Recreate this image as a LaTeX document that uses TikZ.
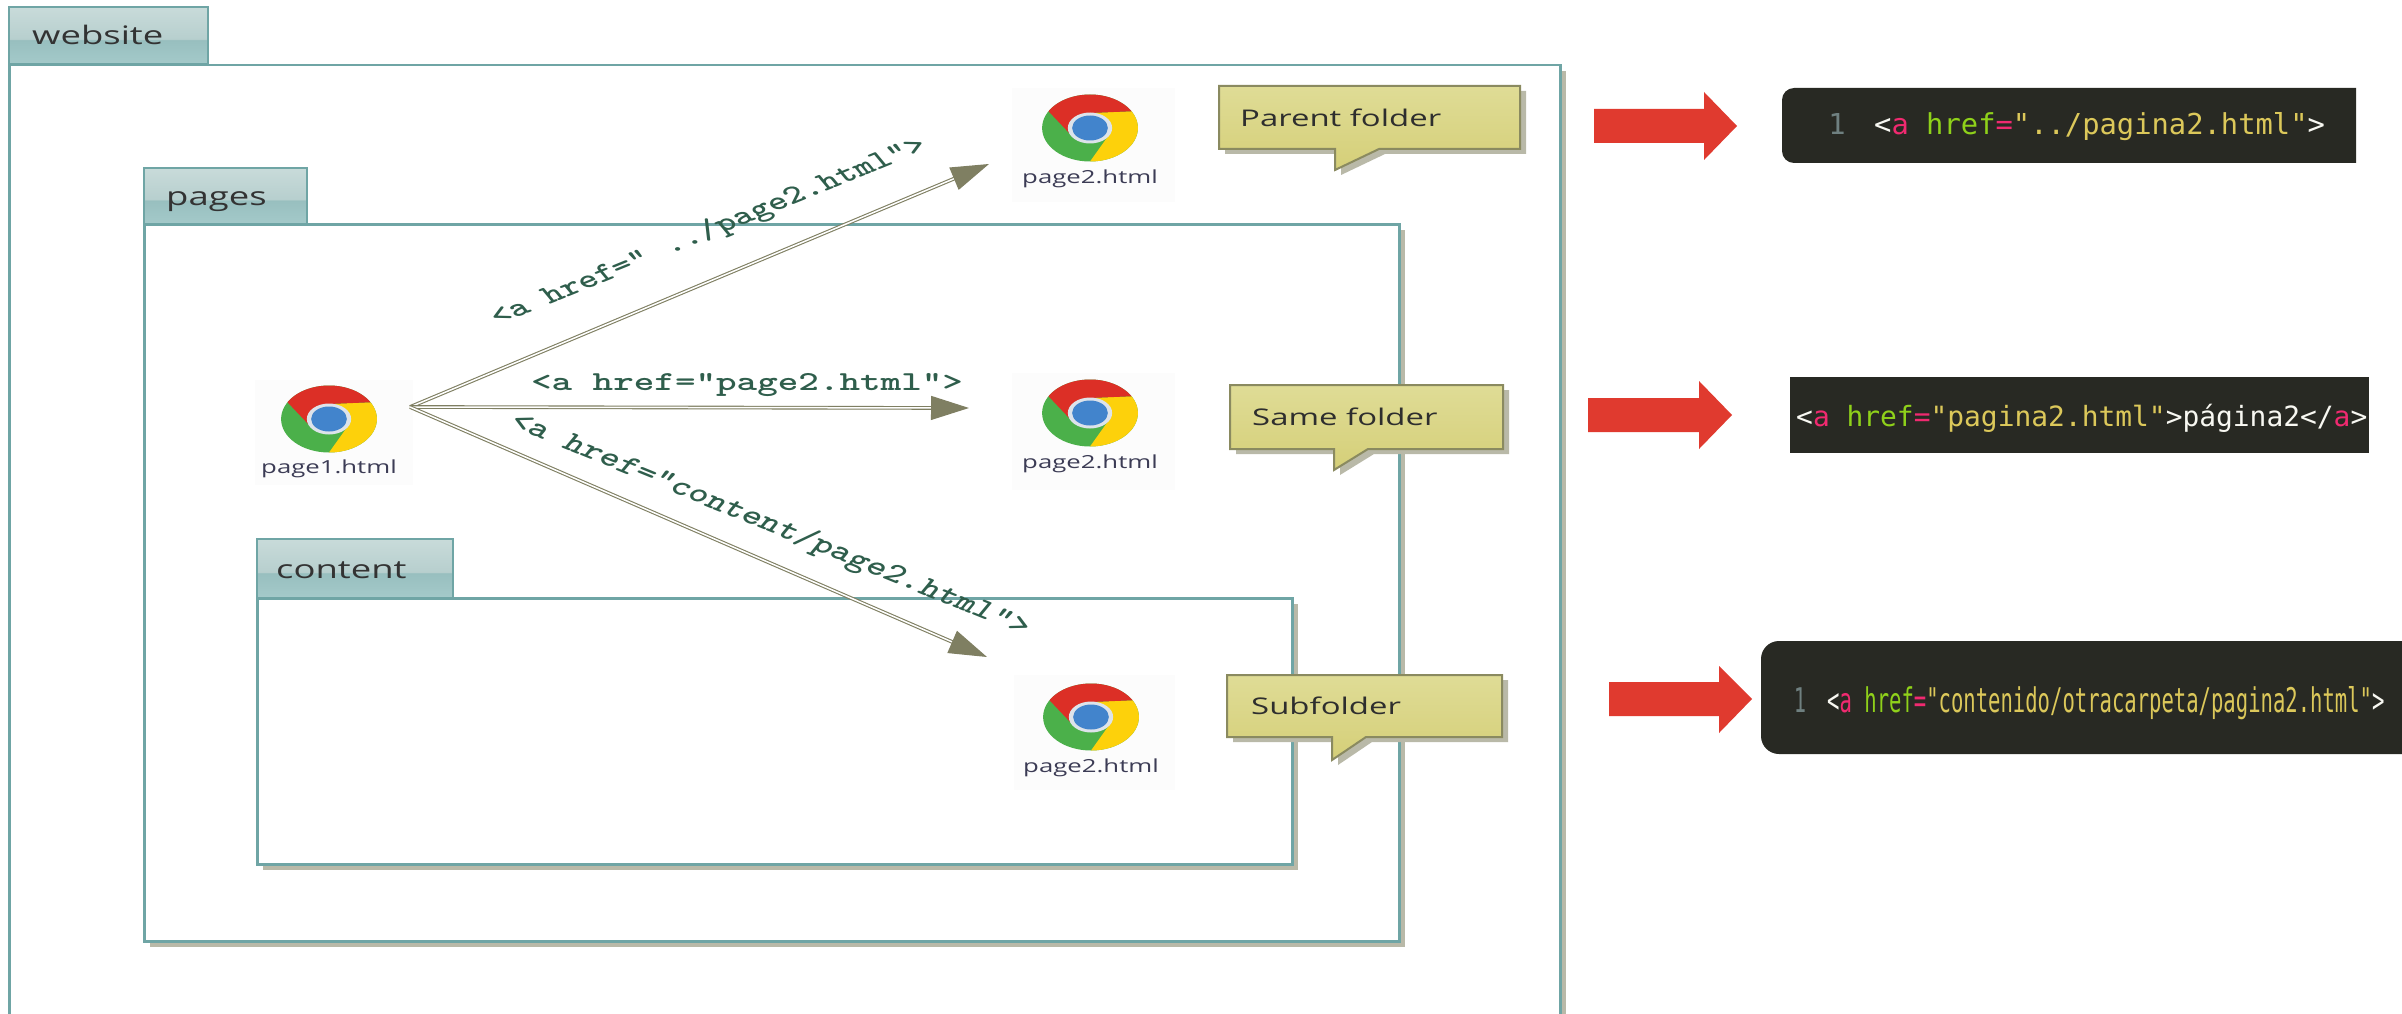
\documentclass[tikz,border=0pt]{standalone}
\usepackage{fontspec}
\usepackage{xcolor}
\usetikzlibrary{arrows.meta}
\usetikzlibrary{shadows}
\setmainfont{Open Sans}
\newfontfamily\monofam{DejaVu Sans Mono}

\definecolor{foldline}{HTML}{6FA5A5}
\definecolor{shadowc}{HTML}{B9B9A8}
\definecolor{tabtop}{HTML}{D8E6E4}
\definecolor{tabmid}{HTML}{B7CFCE}
\definecolor{tabbrk}{HTML}{98BFBF}
\definecolor{tabbot}{HTML}{B2D6D6}
\definecolor{linkc}{HTML}{7F7F62}
\definecolor{hrefc}{HTML}{2F5E4C}
\definecolor{notetop}{HTML}{DFDC96}
\definecolor{notebot}{HTML}{D5CF78}
\definecolor{noteline}{HTML}{8A8A60}
\definecolor{redc}{HTML}{E03A2F}
\definecolor{codebg}{HTML}{282923}
\definecolor{codepink}{HTML}{F02A70}
\definecolor{codegreen}{HTML}{8FD11A}
\definecolor{codeyellow}{HTML}{DCC85A}
\definecolor{codewhite}{HTML}{F8F8F2}
\definecolor{codenum}{HTML}{6F8080}
\definecolor{iconred}{HTML}{DC2F26}
\definecolor{icongreen}{HTML}{4BB04A}
\definecolor{iconyellow}{HTML}{FDD10B}
\definecolor{iconblue}{HTML}{4284CC}
\definecolor{iconring}{HTML}{DDE3EA}
\definecolor{iconpaper}{HTML}{FCFCFC}
\definecolor{icontextc}{HTML}{3C3C55}

\pgfdeclareverticalshading{tabshade}{100bp}{color(0bp)=(tabbot); color(46bp)=(tabbrk); color(47bp)=(tabmid); color(100bp)=(tabtop)}

\newcommand{\wide}[1]{\scalebox{1.43}[1]{#1}}
\newcommand{\pk}[1]{\textcolor{codepink}{#1}}
\newcommand{\gr}[1]{\textcolor{codegreen}{#1}}
\newcommand{\ye}[1]{\textcolor{codeyellow}{#1}}

\newcommand{\chromeicon}[2]{
    \begin{scope}[shift={(#1,#2)}, xscale=1.43]
        \fill[fill=icongreen] (0,0) circle (33.5pt);
        \fill[fill=iconyellow] (30:33.5pt) arc[start angle=30, end angle=-90, radius=33.5pt]
            -- (-30:15pt) arc[start angle=-30, end angle=90, radius=15pt] -- cycle;
        \fill[fill=iconred] (150:33.5pt) arc[start angle=150, end angle=30, radius=33.5pt]
            -- (90:15pt) arc[start angle=90, end angle=210, radius=15pt] -- cycle;
        \fill[fill=iconring] (0,0) circle (15.5pt);
        \fill[fill=iconblue] (0,0) circle (12.5pt);
    \end{scope}
}

\tikzset{
    x=1pt, y=-1pt,
    foldbody/.style={draw=foldline, line width=2.5pt, fill=white, anchor=north west, inner sep=0pt,
        drop shadow={shadow xshift=6pt, shadow yshift=-6pt, fill=shadowc, opacity=1}},
    foldtab/.style={draw=foldline, line width=2pt, shading=tabshade, anchor=north west, inner sep=0pt},
    tabtext/.style={font=\fontsize{25.5}{28}\selectfont, text=black!80, anchor=base west, inner sep=0pt},
    iconbox/.style={fill=iconpaper, anchor=north west, inner sep=0pt},
    icontext/.style={font=\fontsize{18}{22}\selectfont, text=icontextc, inner sep=0pt},
    linkarrow/.style={draw=linkc, line width=1.1pt, double=white, double distance=1.5pt,
        -{Triangle[length=38pt, width=24pt, fill=linkc]}},
    hreftext/.style={font=\ttfamily\bfseries\fontsize{27.4}{30}\selectfont, text=hrefc, inner sep=0pt},
    notefill/.style={draw=noteline, line width=2pt, top color=notetop, bottom color=notebot},
    noteshadow/.style={fill=shadowc},
    notetext/.style={font=\fontsize{23}{27}\selectfont, text=black!82, anchor=base west, inner sep=0pt},
    redarrow/.style={fill=redc},
    codepanel/.style={fill=codebg},
    codetext/.style={font=\monofam\fontsize{28.8}{32}\selectfont, text=codewhite, anchor=base west, inner sep=0pt},
    codenumber/.style={font=\monofam\fontsize{28.8}{32}\selectfont, text=codenum, anchor=base, inner sep=0pt}
}

\begin{document}
\begin{tikzpicture}
        \useasboundingbox (0, 0) rectangle (2402, 1014);
        \fill[white] (0, 0) rectangle (2402, 1014);

        % folders
        \node[foldbody, minimum width=1551pt, minimum height=980pt] (websitebody) at (8, 64) {};
        \node[foldtab, minimum width=199pt, minimum height=57pt] (websitetab) at (8, 6) {};
        \node[tabtext] (websitename) at (32, 45) {\wide{website}};

        \node[foldbody, minimum width=1255pt, minimum height=717pt] (pagesbody) at (143, 223) {};
        \node[foldtab, minimum width=163pt, minimum height=56pt] (pagestab) at (143, 167) {};
        \node[tabtext] (pagesname) at (166, 205) {\wide{pages}};

        \node[foldbody, minimum width=1035pt, minimum height=266pt] (contentbody) at (256, 597) {};
        \node[foldtab, minimum width=196pt, minimum height=59pt] (contenttab) at (256, 538) {};
        \node[tabtext] (contentname) at (276, 578) {\wide{content}};

        % pages
        \node[iconbox, minimum width=158pt, minimum height=105pt] (pageonebox) at (255, 380) {};
        \chromeicon{329}{419}
        \node[icontext] (pageone) at (329, 469) {\wide{page1.html}};

        \node[iconbox, minimum width=163pt, minimum height=114pt] (parentbox) at (1012, 88) {};
        \chromeicon{1090}{128}
        \node[icontext] (pageparent) at (1090, 179) {\wide{page2.html}};

        \node[iconbox, minimum width=163pt, minimum height=117pt] (samebox) at (1012, 373) {};
        \chromeicon{1090}{413}
        \node[icontext] (pagesame) at (1090, 464) {\wide{page2.html}};

        \node[iconbox, minimum width=161pt, minimum height=115pt] (subbox) at (1014, 675) {};
        \chromeicon{1091}{717}
        \node[icontext] (pagesub) at (1091, 768) {\wide{page2.html}};

        % links
        \coordinate (linkstart) at (410, 407);
        \coordinate (linkparent) at (989, 164);
        \coordinate (linksame) at (969, 408);
        \coordinate (linksub) at (987, 657);
        \draw[linkarrow] (linkstart) -- (linkparent);
        \draw[linkarrow] (linkstart) -- (linksame);
        \draw[linkarrow] (linkstart) -- (linksub);

        \node[hreftext, font=\ttfamily\bfseries\fontsize{26.6}{30}\selectfont] (hrefparent) at (709, 232)
            {\wide{\rotatebox{30.2}{<a href=" ../page2.html">}}};
        \node[hreftext] (hrefsame) at (747, 385)
            {\wide{<a href="page2.html">}};
        \node[hreftext] (hrefsub) at (770, 525)
            {\wide{\rotatebox{-30.2}{<a href="content/page2.html">}}};

        % notes
        \fill[noteshadow, xshift=6pt, yshift=-5pt] (1219, 86) -- (1520, 86) -- (1520, 149) -- (1379, 149)
            -- (1335, 170) -- (1335, 149) -- (1219, 149) -- cycle;
        \draw[notefill] (1219, 86) -- (1520, 86) -- (1520, 149) -- (1379, 149)
            -- (1335, 170) -- (1335, 149) -- (1219, 149) -- cycle;
        \node[notetext] (noteparent) at (1240, 127) {\wide{Parent folder}};

        \fill[noteshadow, xshift=6pt, yshift=-5pt] (1230, 385) -- (1503, 385) -- (1503, 449) -- (1368, 449)
            -- (1334, 470) -- (1334, 449) -- (1230, 449) -- cycle;
        \draw[notefill] (1230, 385) -- (1503, 385) -- (1503, 449) -- (1368, 449)
            -- (1334, 470) -- (1334, 449) -- (1230, 449) -- cycle;
        \node[notetext] (notesame) at (1252, 425) {\wide{Same folder}};

        \fill[noteshadow, xshift=6pt, yshift=-5pt] (1227, 675) -- (1502, 675) -- (1502, 737) -- (1366, 737)
            -- (1332, 760) -- (1332, 737) -- (1227, 737) -- cycle;
        \draw[notefill] (1227, 675) -- (1502, 675) -- (1502, 737) -- (1366, 737)
            -- (1332, 760) -- (1332, 737) -- (1227, 737) -- cycle;
        \node[notetext] (notesub) at (1251, 714) {\wide{Subfolder}};

        % red arrows
        \fill[redarrow] (1594, 109) -- (1704, 109) -- (1704, 92) -- (1737, 126) -- (1704, 160) -- (1704, 143) -- (1594, 143) -- cycle;
        \fill[redarrow] (1588, 398) -- (1699, 398) -- (1699, 381) -- (1732, 415) -- (1699, 449) -- (1699, 432) -- (1588, 432) -- cycle;
        \fill[redarrow] (1609, 682) -- (1719, 682) -- (1719, 666) -- (1752, 699) -- (1719, 733) -- (1719, 716) -- (1609, 716) -- cycle;

        % code panels
        \fill[codepanel] (2356, 88) [rounded corners=12pt] -- (1782, 88) -- (1782, 163) [sharp corners] -- (2356, 163) -- cycle;
        \node[codenumber] (numone) at (1837, 135) {1};
        \node[codetext] (codeone) at (1874, 135)
            {<\pk{a} \gr{href}\pk{=}\ye{"../pagina2.html"}>};

        \fill[codepanel] (1790, 377) rectangle (2369, 453);
        \node[codetext, font=\monofam\fontsize{27.9}{32}\selectfont] (codetwo) at (1796, 426)
            {<\pk{a} \gr{href}\pk{=}\ye{"pagina2.html"}>página2</\pk{a}>};

        \fill[codepanel] (2402, 641) [rounded corners=18pt] -- (1761, 641) -- (1761, 754) [sharp corners] -- (2402, 754) -- cycle;
        \node[codenumber, font=\monofam\fontsize{34}{38}\selectfont] (numthree) at (1800, 712) {\scalebox{0.6}[1]{1}};
        \node[codetext, font=\monofam\fontsize{34}{38}\selectfont] (codethree) at (1827, 712)
            {\scalebox{0.605}[1]{<\pk{a} \gr{href}\pk{=}\ye{"contenido/otracarpeta/pagina2.html"}>}};
\end{tikzpicture}
\end{document}
